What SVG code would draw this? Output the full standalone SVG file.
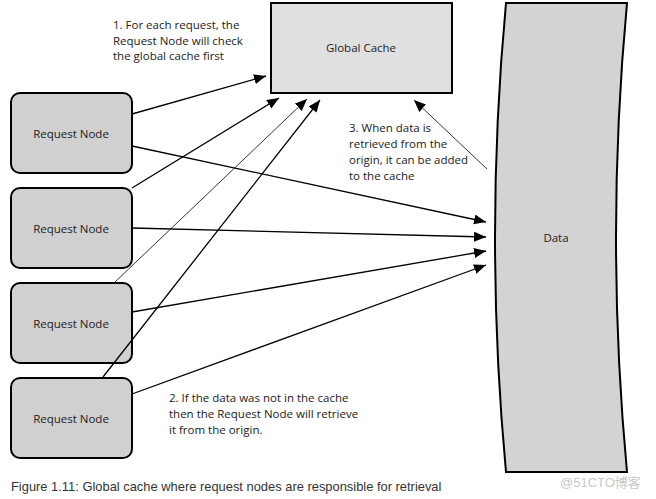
<svg xmlns="http://www.w3.org/2000/svg" width="656" height="499" viewBox="0 0 656 499">
<style>
.node{fill:#d0d0d0;stroke:#000;stroke-width:2}
.cache{fill:#e0e0e0;stroke:#000;stroke-width:2}
.data{fill:#d3d3d3;stroke:#000;stroke-width:2}
.lbl{font-family:"Segoe UI","Open Sans","Noto Sans",sans-serif;font-size:11.5px;fill:#222}
.c{text-anchor:middle}
.e{stroke:#000;stroke-width:1.3;fill:none;marker-end:url(#ah)}
.t{stroke:#000;stroke-width:0.8;fill:none;marker-end:url(#ah)}
.cap{font-family:"Liberation Sans",Arial,sans-serif;font-size:12.9px;fill:#333}
.wm{font-family:"Liberation Sans","Noto Sans CJK SC",sans-serif;font-size:13px;fill:#c8c8c8}
</style>
<defs>
<marker id="ah" markerUnits="userSpaceOnUse" markerWidth="13" markerHeight="11" refX="12" refY="5" orient="auto">
<path d="M0,0 L12,5 L0,10 z" fill="#000"/>
</marker>
</defs>
<rect width="656" height="499" fill="#fff"/>
<g id="global-cache">
<rect class="cache" x="271" y="3" width="181" height="90"/>
<text class="lbl c" x="361" y="52">Global Cache</text>
</g>
<g id="data">
<path class="data" d="M506,3 Q484,237.5 506,472 L627,472 Q605,237.5 627,3 Z"/>
<text class="lbl c" x="556" y="242">Data</text>
</g>
<g id="request-node-1">
<rect class="node" x="11" y="93" width="121" height="80" rx="9"/>
<text class="lbl c" x="71" y="138">Request Node</text>
</g>
<g id="request-node-2">
<rect class="node" x="11" y="188" width="121" height="80" rx="9"/>
<text class="lbl c" x="71" y="233">Request Node</text>
</g>
<g id="request-node-3">
<rect class="node" x="11" y="283" width="121" height="80" rx="9"/>
<text class="lbl c" x="71" y="328">Request Node</text>
</g>
<g id="request-node-4">
<rect class="node" x="11" y="378" width="121" height="80" rx="9"/>
<text class="lbl c" x="71" y="423">Request Node</text>
</g>
<g id="connectors">
<line class="e" x1="132" y1="114" x2="266" y2="76"/>
<line class="e" x1="132" y1="188" x2="279" y2="98"/>
<line class="t" x1="115" y1="282" x2="307" y2="99"/>
<line class="e" x1="103" y1="377" x2="320" y2="100"/>
<line class="e" x1="132" y1="146" x2="486" y2="222"/>
<line class="e" x1="132" y1="228" x2="486" y2="237"/>
<line class="e" x1="132" y1="312" x2="486" y2="251"/>
<line class="e" x1="132" y1="394" x2="486" y2="265"/>
<line class="t" x1="487" y1="169" x2="414" y2="100"/>
</g>
<g id="notes">
<text class="lbl" x="113" y="29">1. For each request, the</text>
<text class="lbl" x="113" y="45">Request Node will check</text>
<text class="lbl" x="113" y="60">the global cache first</text>
<text class="lbl" x="349" y="132">3. When data is</text>
<text class="lbl" x="349" y="148">retrieved from the</text>
<text class="lbl" x="349" y="164">origin, it can be added</text>
<text class="lbl" x="349" y="180">to the cache</text>
<text class="lbl" x="169" y="402">2. If the data was not in the cache</text>
<text class="lbl" x="169" y="418">then the Request Node will retrieve</text>
<text class="lbl" x="169" y="434">it from the origin.</text>
</g>
<text class="cap" x="11" y="491">Figure 1.11: Global cache where request nodes are responsible for retrieval</text>
<text class="wm" x="560" y="487">@51CTO博客</text>
</svg>
